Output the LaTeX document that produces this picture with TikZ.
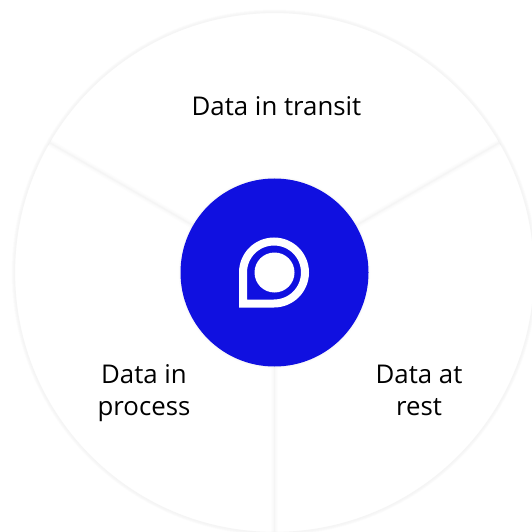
\documentclass[tikz,border=0pt]{standalone}
\usepackage{fontspec}
\setmainfont{Open Sans}
\definecolor{hubblue}{HTML}{1010E0}
\definecolor{soft}{HTML}{F5F5F5}
\tikzset{
  px/.style={x=1bp,y=-1bp},
  rimdisc/.style={circle,minimum size=520bp,inner sep=0pt,outer sep=0pt,fill=white},
  hubdisc/.style={circle,minimum size=188bp,inner sep=0pt,outer sep=0pt,fill=hubblue},
  halo/.style={line width=#1,draw=black,draw opacity=0.009},
  core/.style={line width=1.2bp,draw=soft},
  label/.style={align=center,font=\fontsize{25.8bp}{32bp}\selectfont,text=black,inner sep=0pt},
  iconring/.style={draw=white,line width=8bp,miter limit=10}
}
\begin{document}
\begin{tikzpicture}[px]
\useasboundingbox (0,0) rectangle (532,532);
\clip (0,0) rectangle (532,532);
\coordinate (c) at (274.5,272.5);
\foreach \w in {6,5,4,3}{\draw[halo=\w bp] (c) circle[radius=260];}
\node[rimdisc] (rim) at (c) {};
\draw[core] (c) circle[radius=260];
\foreach \a in {150,30,270}{
  \foreach \w in {7,5,3}{\draw[halo=\w bp] (c) ++(-\a:94) -- (rim.\a);}
  \draw[core] (c) ++(-\a:94) -- (rim.\a);
}
\foreach \w in {4,3,2}{\draw[halo=\w bp] (c) circle[radius=94];}
\node[hubdisc] (hub) at (c) {};
\node[circle,fill=white,minimum size=40bp,inner sep=0pt] (dot) at (c) {};
\draw[iconring] (243,303.5) -- (243,272.5) arc[start angle=180,end angle=450,radius=31] -- cycle;
\node[label] (transit) at (276.5,106) {Data in transit};
\node[label] (process) at (144,393.5) {Data in\\process};
\node[label] (rest) at (419,390.5) {Data at\\rest};
\end{tikzpicture}
\end{document}
